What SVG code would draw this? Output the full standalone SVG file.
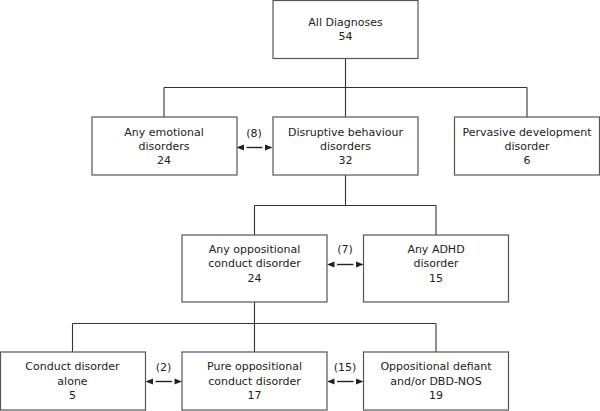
<svg xmlns="http://www.w3.org/2000/svg" width="600" height="411" viewBox="0 0 600 411">
<defs>
<marker id="ah" viewBox="0 0 10 7" refX="0" refY="3.5" markerWidth="10" markerHeight="7" markerUnits="userSpaceOnUse" orient="auto-start-reverse">
<path d="M2.5,0.5 L10,3.5 L2.5,6.5 z" fill="#222"/>
</marker>
<style>
.box{fill:#fff;stroke:#555;stroke-width:1.2}
text{font-family:"DejaVu Sans",Verdana,sans-serif;font-size:11px;fill:#222;text-anchor:middle}
.c{fill:none;stroke:#333;stroke-width:1.1}
.a{fill:none;stroke:#222;stroke-width:1.4;marker-start:url(#ah);marker-end:url(#ah)}
</style>
</defs>
<g id="connectors">
<path class="c" d="M345.5,58 V117 M164,87.5 H527 M164,87.5 V117 M527,87.5 V117"/>
<path class="c" d="M345.5,175 V205.5 M254.5,205.5 H436 M254.5,205.5 V235 M436,205.5 V235"/>
<path class="c" d="M254.5,302 V323.5 M72.5,323.5 H436 M72.5,323.5 V352 M254.5,323.5 V352 M436,323.5 V352"/>
<line class="a" x1="246.5" y1="147.5" x2="262.5" y2="147.5"/>
<line class="a" x1="337" y1="264.5" x2="353.5" y2="264.5"/>
<line class="a" x1="155.5" y1="381.5" x2="172" y2="381.5"/>
<line class="a" x1="337" y1="381.5" x2="353.5" y2="381.5"/>
<text x="254" y="137">(8)</text>
<text x="345" y="253">(7)</text>
<text x="163.5" y="371">(2)</text>
<text x="345" y="371">(15)</text>
</g>
<g id="all">
<rect class="box" x="273" y="0.5" width="145" height="58"/>
<text x="345.5" y="26">All Diagnoses</text>
<text x="345.5" y="40">54</text>
</g>
<g id="emotional">
<rect class="box" x="92" y="117" width="145" height="58"/>
<text x="164" y="136">Any emotional</text>
<text x="164" y="150">disorders</text>
<text x="164" y="164">24</text>
</g>
<g id="disruptive">
<rect class="box" x="273" y="117" width="145" height="58"/>
<text x="345.5" y="136">Disruptive behaviour</text>
<text x="345.5" y="150">disorders</text>
<text x="345.5" y="164">32</text>
</g>
<g id="pervasive">
<rect class="box" x="454.5" y="117" width="145" height="58"/>
<text x="527" y="136">Pervasive development</text>
<text x="527" y="150">disorder</text>
<text x="527" y="164">6</text>
</g>
<g id="oppositional">
<rect class="box" x="182" y="235" width="145" height="67"/>
<text x="254.5" y="253">Any oppositional</text>
<text x="254.5" y="267">conduct disorder</text>
<text x="254.5" y="282">24</text>
</g>
<g id="adhd">
<rect class="box" x="363.5" y="235" width="145" height="67"/>
<text x="436" y="253">Any ADHD</text>
<text x="436" y="267">disorder</text>
<text x="436" y="282">15</text>
</g>
<g id="conduct">
<rect class="box" x="0.5" y="352" width="145" height="58"/>
<text x="72.5" y="370">Conduct disorder</text>
<text x="72.5" y="385">alone</text>
<text x="72.5" y="399">5</text>
</g>
<g id="pure">
<rect class="box" x="182" y="352" width="145" height="58"/>
<text x="254.5" y="370">Pure oppositional</text>
<text x="254.5" y="385">conduct disorder</text>
<text x="254.5" y="399">17</text>
</g>
<g id="odd">
<rect class="box" x="363.5" y="352" width="145" height="58"/>
<text x="436" y="370">Oppositional defiant</text>
<text x="436" y="385">and/or DBD-NOS</text>
<text x="436" y="399">19</text>
</g>
</svg>
